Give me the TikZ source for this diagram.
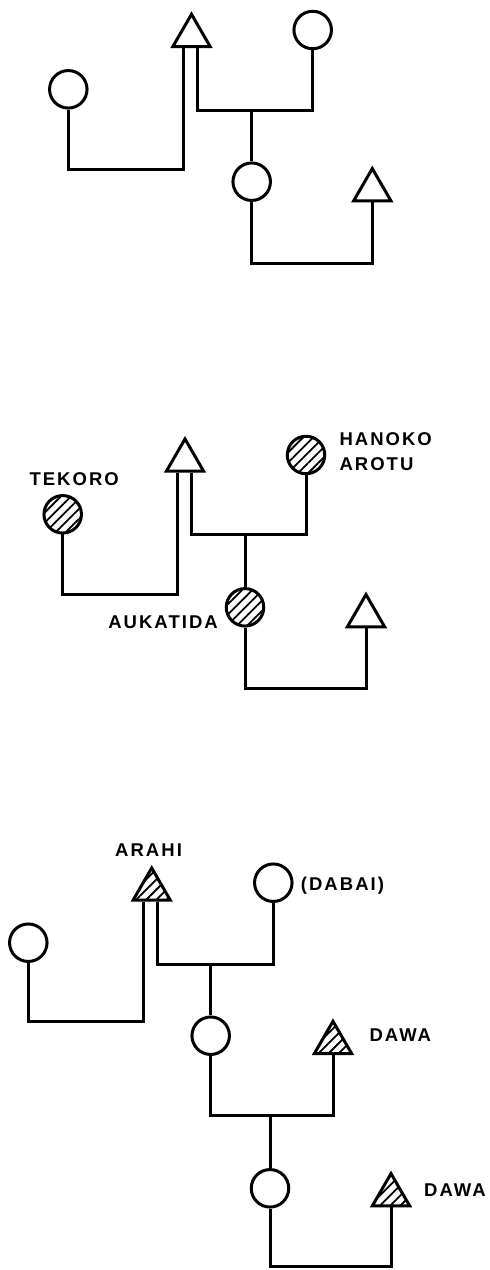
\documentclass[tikz,border=0pt]{standalone}
\usepackage{fontspec}
\setmainfont{Liberation Sans}
\newfontfamily\lblfont[LetterSpace=11]{Liberation Sans}
\usetikzlibrary{shapes.geometric,patterns.meta}
\begin{document}
\begin{tikzpicture}[x=1pt,y=-1pt,
  fem/.style={circle, draw, line width=3pt, minimum size=37.5pt, inner sep=0pt},
  mal/.style={regular polygon, regular polygon sides=3, draw, line width=3pt, minimum size=43pt, inner sep=0pt, anchor=side 2},
  hatch/.style={pattern={Lines[angle=45,distance=7.2pt,line width=1.8pt]}},
  kin/.style={line width=3pt, line join=miter},
  lbl/.style={font=\lblfont\bfseries\fontsize{18.5}{21}\selectfont, inner sep=0pt, anchor=base west}]
\useasboundingbox (0,0) rectangle (490,1270);

% ---------- Diagram 1 ----------
\node[mal] (d1m) at (191.5,48) {};
\node[fem] (d1w1) at (68.3,89.3) {};
\node[fem] (d1w2) at (312.7,30) {};
\node[fem] (d1d) at (251.7,181.7) {};
\node[mal] (d1h) at (372.3,202.3) {};
\coordinate (d1ml) at ([xshift=-8pt]d1m.side 2);
\coordinate (d1mr) at ([xshift=6pt]d1m.side 2);
\coordinate (d1y1) at (0,169.3);
\coordinate (d1y2) at (0,110);
\coordinate (d1y3) at (0,263.3);
\draw[kin] (d1w1.south) -- (d1w1.south |- d1y1) -| (d1ml);
\draw[kin] (d1mr) -- (d1mr |- d1y2) -| (d1w2.south);
\draw[kin] (d1d.north) -- (d1d.north |- d1y2);
\draw[kin] (d1d.south) -- (d1d.south |- d1y3) -| (d1h.side 2);

% ---------- Diagram 2 ----------
\node[mal] (d2m) at (185,472.7) {};
\node[fem,hatch] (d2w1) at (62.7,514.3) {};
\node[fem,hatch] (d2w2) at (306,455) {};
\node[fem,hatch] (d2d) at (245,607.3) {};
\node[mal] (d2h) at (366,628.3) {};
\coordinate (d2ml) at ([xshift=-8pt]d2m.side 2);
\coordinate (d2mr) at ([xshift=6pt]d2m.side 2);
\coordinate (d2y1) at (0,594.3);
\coordinate (d2y2) at (0,534);
\coordinate (d2y3) at (0,688.3);
\draw[kin] (d2w1.south) -- (d2w1.south |- d2y1) -| (d2ml);
\draw[kin] (d2mr) -- (d2mr |- d2y2) -| (d2w2.south);
\draw[kin] (d2d.north) -- (d2d.north |- d2y2);
\draw[kin] (d2d.south) -- (d2d.south |- d2y3) -| (d2h.side 2);
\node[lbl] (lt) at (29.3,485.7) {TEKORO};
\node[lbl] (lh1) at (339.3,445) {HANOKO};
\node[lbl] (lh2) at (339.3,470) {AROTU};
\node[lbl, anchor=base east] (la) at (218,628.3) {AUKATIDA};

% ---------- Diagram 3 ----------
\node[mal,hatch] (d3m) at (151.7,901.7) {};
\node[fem] (d3w2) at (273.3,882.7) {};
\node[fem] (d3w1) at (28.3,942.7) {};
\node[fem] (d3d) at (210.7,1035.7) {};
\node[mal,hatch] (d3h1) at (333,1055) {};
\node[fem] (d3g) at (270,1188.3) {};
\node[mal,hatch] (d3h2) at (391,1207.3) {};
\coordinate (d3ml) at ([xshift=-8pt]d3m.side 2);
\coordinate (d3mr) at ([xshift=6pt]d3m.side 2);
\coordinate (d3y1) at (0,1021.7);
\coordinate (d3y2) at (0,964);
\coordinate (d3y3) at (0,1115);
\coordinate (d3y4) at (0,1266.7);
\draw[kin] (d3w1.south) -- (d3w1.south |- d3y1) -| (d3ml);
\draw[kin] (d3mr) -- (d3mr |- d3y2) -| (d3w2.south);
\draw[kin] (d3d.north) -- (d3d.north |- d3y2);
\draw[kin] (d3d.south) -- (d3d.south |- d3y3) -| (d3h1.side 2);
\draw[kin] (d3g.north) -- (d3g.north |- d3y3);
\draw[kin] (d3g.south) -- (d3g.south |- d3y4) -| (d3h2.side 2);
\node[lbl] (lar) at (115,856) {ARAHI};
\node[lbl] (ldb) at (300.7,890.7) {(DABAI)};
\node[lbl] (ldw1) at (369.3,1041.7) {DAWA};
\node[lbl] (ldw2) at (424,1196.7) {DAWA};
\end{tikzpicture}
\end{document}
